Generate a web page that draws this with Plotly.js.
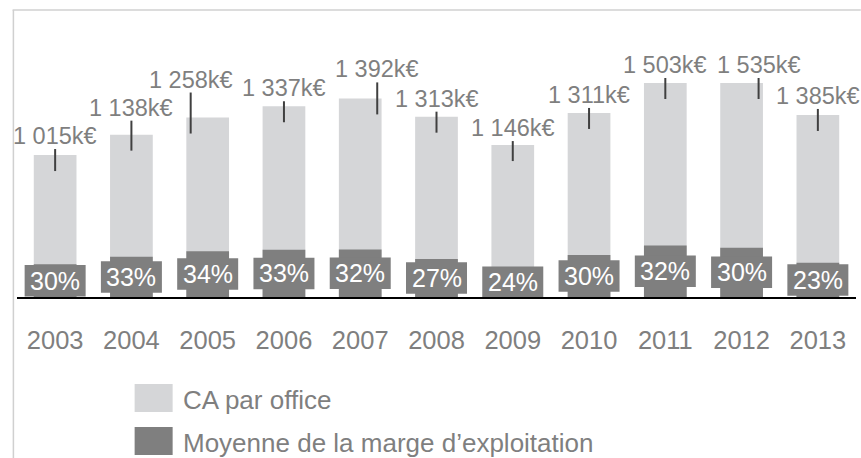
<!DOCTYPE html>
<html>
<head>
<meta charset="utf-8">
<script src="https://cdn.plot.ly/plotly-3.0.1.min.js"></script>
<style>
html,body{margin:0;padding:0;background:#fff;}
#chart{width:861px;height:458px;}
</style>
</head>
<body>
<div id="chart"></div>
<script>
// ---------- data ----------
const years = ['2003','2004','2005','2006','2007','2008','2009','2010','2011','2012','2013'];
// bar heights as drawn (k€); 2011 and 2012 run past the top of the axis
const caBarHeight = [995, 1138, 1258, 1337, 1392, 1264, 1065, 1290, 1503, 1535, 1276];
// values printed above the bars (k€)
const caLabelValue = [1015, 1138, 1258, 1337, 1392, 1313, 1146, 1311, 1503, 1535, 1385];
// operating margin rate (%) printed in the dark boxes
const marginRate = [30, 33, 34, 33, 32, 27, 24, 30, 32, 30, 23];
// height of the dark bars (margin in k€)
const marginAmount = [305, 376, 428, 441, 445, 355, 275, 393, 481, 461, 319];
const seriesNames = ['CA par office', 'Moyenne de la marge d\u2019exploitation'];

// ---------- layout-only placement of the value labels (pixels) ----------
const labelLift  = [19, 27, 38, 18, 29, 18, 17, 18, 18, 18, 19];
const labelShift = [0, 0, -17, 0, 17, 0, 0, 0, 0, 17, 0];

// ---------- geometry & style ----------
const W = 861, H = 458;
const ML = 17.4, MR = 4.8, MT = 83, MB = 161;
const PW = W - ML - MR, PH = H - MT - MB;
const Y_MAX = 1500, Y2_MAX = 2000;
const FONT = 'Liberation Sans, Arial, sans-serif';
const TXT = '#7f7f7f';
const LIGHT = '#d5d6d8';
const DARK = '#7f7f7f';

const px2x = px => (px - ML) / PW;
const py2y = py => (H - MB - py) / PH;

function fmtK(v) {
  const th = Math.floor(v / 1000);
  const rest = String(v % 1000).padStart(3, '0');
  return (th > 0 ? th + ' ' + rest : String(v % 1000)) + 'k\u20AC';
}

const traces = [
  {
    type: 'bar', x: years, y: caBarHeight, name: seriesNames[0],
    marker: {color: LIGHT, line: {width: 0}}, width: 0.56,
    hoverinfo: 'skip', showlegend: false
  },
  {
    type: 'bar', x: years, y: marginAmount, yaxis: 'y2', name: seriesNames[1],
    marker: {color: DARK, line: {width: 0}}, width: 0.56,
    hoverinfo: 'skip', showlegend: false
  }
];

const shapes = [];
const annotations = [];

// frame lines
shapes.push({type: 'line', xref: 'paper', yref: 'paper',
  x0: px2x(13), x1: px2x(861), y0: py2y(10), y1: py2y(10),
  line: {color: '#d0d0d0', width: 1.5}});
shapes.push({type: 'line', xref: 'paper', yref: 'paper',
  x0: px2x(13.8), x1: px2x(13.8), y0: py2y(10), y1: py2y(458),
  line: {color: '#d0d0d0', width: 1.5}});

years.forEach((yr, i) => {
  const top = Math.min(caBarHeight[i], Y_MAX);
  // leader line
  shapes.push({
    type: 'line', layer: 'above',
    xref: 'x', xsizemode: 'pixel', xanchor: i, x0: labelShift[i], x1: labelShift[i],
    yref: 'paper', ysizemode: 'pixel', yanchor: top / Y_MAX, y0: -16, y1: labelLift[i] - 13,
    line: {color: '#404040', width: 2}
  });
  // value label
  annotations.push({
    x: i, y: top, xref: 'x', yref: 'y', text: fmtK(caLabelValue[i]),
    showarrow: false, xanchor: 'center', yanchor: 'middle',
    xshift: labelShift[i], yshift: labelLift[i],
    font: {family: FONT, size: 23.5, color: TXT}
  });
  // percent box
  shapes.push({
    type: 'rect', layer: 'above',
    xref: 'x', xsizemode: 'pixel', xanchor: i, x0: -30.5, x1: 30.5,
    yref: 'y2', ysizemode: 'pixel', yanchor: marginAmount[i] / 2, y0: -15.75, y1: 15.75,
    fillcolor: DARK, line: {width: 0}
  });
  annotations.push({
    x: i, y: marginAmount[i] / 2, xref: 'x', yref: 'y2', text: marginRate[i] + '%',
    showarrow: false, xanchor: 'center', yanchor: 'middle',
    font: {family: FONT, size: 25, color: '#ffffff'}
  });
});

// manual legend
const legendRows = [{y0: 384, y1: 412, color: LIGHT}, {y0: 427, y1: 455, color: DARK}];
legendRows.forEach((r, k) => {
  shapes.push({type: 'rect', xref: 'paper', yref: 'paper',
    x0: px2x(135), x1: px2x(173), y0: py2y(r.y1), y1: py2y(r.y0),
    fillcolor: r.color, line: {width: 0}});
  annotations.push({xref: 'paper', yref: 'paper', x: px2x(181), y: py2y((r.y0 + r.y1) / 2 + 2),
    text: seriesNames[k], showarrow: false, xanchor: 'left', yanchor: 'middle',
    font: {family: FONT, size: 26, color: TXT}});
});

const layout = {
  width: W, height: H,
  margin: {l: ML, r: MR, t: MT, b: MB, pad: 0, autoexpand: false},
  paper_bgcolor: '#ffffff', plot_bgcolor: 'rgba(0,0,0,0)',
  barmode: 'overlay',
  showlegend: false,
  font: {family: FONT, color: TXT},
  xaxis: {
    type: 'category', range: [-0.5, 10.5], automargin: false,
    showline: true, linecolor: '#000000', linewidth: 1.5,
    ticks: '', showgrid: false, zeroline: false,
    tickfont: {family: FONT, size: 25.5, color: TXT},
    ticklabelstandoff: 20
  },
  yaxis: {range: [0, Y_MAX], visible: false, showgrid: false, zeroline: false, automargin: false},
  yaxis2: {range: [0, Y2_MAX], overlaying: 'y', visible: false, showgrid: false, zeroline: false, automargin: false},
  shapes: shapes,
  annotations: annotations
};

Plotly.newPlot('chart', traces, layout, {displayModeBar: false, staticPlot: true});
</script>
</body>
</html>
